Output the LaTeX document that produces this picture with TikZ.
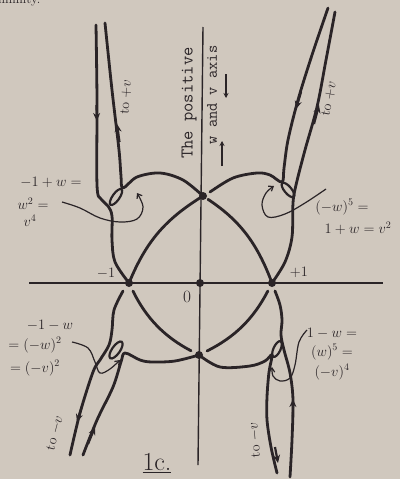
\documentclass[tikz,border=0pt]{standalone}
\usepackage{tikz}
\usetikzlibrary{arrows.meta, shapes.geometric}
\definecolor{Paper}{HTML}{D0C8BE}
\definecolor{Ink}{HTML}{2A2427}

\begin{document}
\begin{tikzpicture}[
    x=1pt, y=-1pt,
    curve/.style={line width=2.8pt, draw=Ink, line cap=round, line join=round},
    axisline/.style={line width=1.4pt, draw=Ink},
    hole/.style={ellipse, draw=Ink, line width=2.2pt, inner sep=0pt},
    flow/.style={-{Stealth[length=8pt, width=7pt]}, line width=2.2pt, draw=Ink},
    curl/.style={-{Straight Barb[length=4pt, width=6pt]}, line width=1.2pt, draw=Ink},
    dot/.style={circle, fill=Ink, inner sep=0pt, minimum size=8pt},
    lab/.style={text=Ink, font=\fontsize{14}{16}\selectfont, inner sep=0pt},
    tail/.style={text=Ink, font=\fontsize{14}{16}\selectfont, inner sep=0pt},
    axistext/.style={text=Ink, font=\ttfamily\fontsize{18}{20}\selectfont, inner sep=0pt, rotate=90},
]
\fill[Paper] (0,0) rectangle (400,479);
\useasboundingbox (0,0) rectangle (400,479);

% cut text from the page above
\begin{scope}
\clip (0,0) rectangle (400,479);
\node[text=Ink, font=\fontsize{13}{15}\selectfont, anchor=base west, inner sep=0pt] (above) at (-2,4) {infinity.};
\end{scope}

% Axes
\draw[axisline] (29,283) -- (383,283);
\draw[axisline] (203,27) -- (198,465);

% Points
\node[dot] (mone) at (129,283) {};
\node[dot] (pone) at (272,283) {};
\node[dot] (topp) at (203,196) {};
\node[dot] (botp) at (199,355) {};
\node[dot] (orig) at (200,283) {};

% Inner arcs
\draw[curve] (mone.center) to[bend left=18] (topp.center);
\draw[curve, shorten <=6pt] (topp.center) to[bend left=18] (pone.center);
\draw[curve, shorten <=9pt, shorten >=9pt] (pone.center) to[bend left=18] (botp.center);
\draw[curve, shorten <=9pt, shorten >=9pt] (botp.center) to[bend left=18] (mone.center);

% Small loops
\node[hole, minimum width=19pt, minimum height=7pt, rotate=55] (ulhole) at (116,197) {};
\node[hole, minimum width=18pt, minimum height=7pt, rotate=-50] (urhole) at (288,190) {};
\node[hole, minimum width=20pt, minimum height=8pt, rotate=55] (blhole) at (116,350) {};
\node[hole, minimum width=17pt, minimum height=7pt, rotate=65] (brhole) at (277,349) {};

% Upper left
\draw[curve] plot[smooth, tension=0.55] coordinates {(96,25) (97,100) (97,185) (101,199) (108,206) (112,216) (112,240) (115,262) (mone)};
\draw[curve] plot[smooth, tension=0.55] coordinates {(105,23) (112,90) (119,150) (121,176) (123,188) (137,177) (160,173) (183,180) (topp)};

% Upper right
\draw[curve] plot[smooth, tension=0.55] coordinates {(328,8) (312,55) (298,100) (288,140) (284,168) (282,182) (270,175) (257,173) (233,178) (210,192)};
\draw[curve] plot[smooth, tension=0.55] coordinates {(335,12) (326,60) (317,107) (305,150) (296,185) (293,203) (292,237) (285,262) (pone)};

% Lower left
\draw[curve] plot[smooth, tension=0.55] coordinates {(123,291) (114,310) (112,330) (109,345) (100,360) (93,372) (80,413) (70,455)};
\draw[curve] plot[smooth, tension=0.55] coordinates {(83,455) (97,420) (113,387) (121,362) (125,353) (140,360) (152,362) (175,361) (botp)};

% Lower right
\draw[curve] plot[smooth, tension=0.55] coordinates {(275,291) (280,305) (282,320) (281,335) (284,350) (290,373) (293,400) (292,440) (290,477)};
\draw[curve] plot[smooth, tension=0.55] coordinates {(277,473) (271,447) (267,420) (267,397) (269,372) (272,355) (265,361) (250,366) (220,367) (botp)};

% Direction arrows on the tails
\draw[flow] (96.5,105) -- (96.8,121);
\draw[flow] (119.5,142) -- (117,124);
\draw[flow] (301,92) -- (296,109);
\draw[flow] (314,124) -- (319,105);
\draw[flow] (82,406) -- (77,422);
\draw[flow] (88,444) -- (95,427);
\draw[flow] (275,447) -- (278,463);
\draw[flow] (292.8,416) -- (293,399);

% Curly pointers
\draw[curl] plot[smooth, tension=0.6] coordinates {(62,202) (80,208) (100,218) (120,222) (137,219) (143,207) (137,193)};
\draw[curl] plot[smooth, tension=0.6] coordinates {(326,189) (305,203) (285,214) (268,217) (262,205) (266,193) (274,186)};
\draw[curl] plot[smooth, tension=0.6] coordinates {(72,342) (88,348) (95,362) (100,373) (110,369) (120,360)};
\draw[curl] plot[smooth, tension=0.6] coordinates {(307,330) (299,342) (295,365) (290,378) (280,381) (273,376) (272,367)};

% Axis labels
\node[axistext] (positive) at (189,103) {The positive};
\node[axistext, font=\ttfamily\fontsize{16}{18}\selectfont] (wvaxis) at (212,95) {w and v axis};
\draw[-{Stealth[length=5pt, width=5pt]}, line width=1.3pt, draw=Ink] (222,166) -- (222,141);
\draw[-{Stealth[length=5pt, width=5pt]}, line width=1.3pt, draw=Ink] (226,74) -- (226,98);

% Point labels
\node[lab] (monelab) at (106,273) {$-1$};
\node[lab] (ponelab) at (299,272) {$+1$};
\node[lab, font=\fontsize{18}{20}\selectfont] (origlab) at (187,297) {$0$};

% Corner labels
\node[lab] (ul1) at (51,182) {$-1+w=$};
\node[lab] (ul2) at (33,204) {$w^2=$};
\node[lab] (ul3) at (30,221) {$v^4$};
\node[lab] (ur1) at (342,207) {$(-w)^5=$};
\node[lab] (ur2) at (358,228) {$1+w=v^2$};
\node[lab] (bl1) at (50,325) {$-1-w$};
\node[lab] (bl2) at (35,345) {$=(-w)^2$};
\node[lab] (bl3) at (35,368) {$=(-v)^2$};
\node[lab] (br1) at (332,333) {$1-w=$};
\node[lab] (br2) at (332,352) {$(w)^5=$};
\node[lab] (br3) at (332,372) {$(-v)^4$};

% Tail labels
\node[tail, rotate=86] (ultail) at (126,97) {to $+v$};
\node[tail, rotate=79] (urtail) at (329,99) {to $+v$};
\node[tail, rotate=75] (bltail) at (55,433) {to $-v$};
\node[tail, rotate=95] (brtail) at (255,440) {to $-v$};

% Figure number
\node[text=Ink, font=\fontsize{26}{28}\selectfont, inner sep=0pt] (fig) at (157,463) {\underline{1c.}};

\end{tikzpicture}
\end{document}
